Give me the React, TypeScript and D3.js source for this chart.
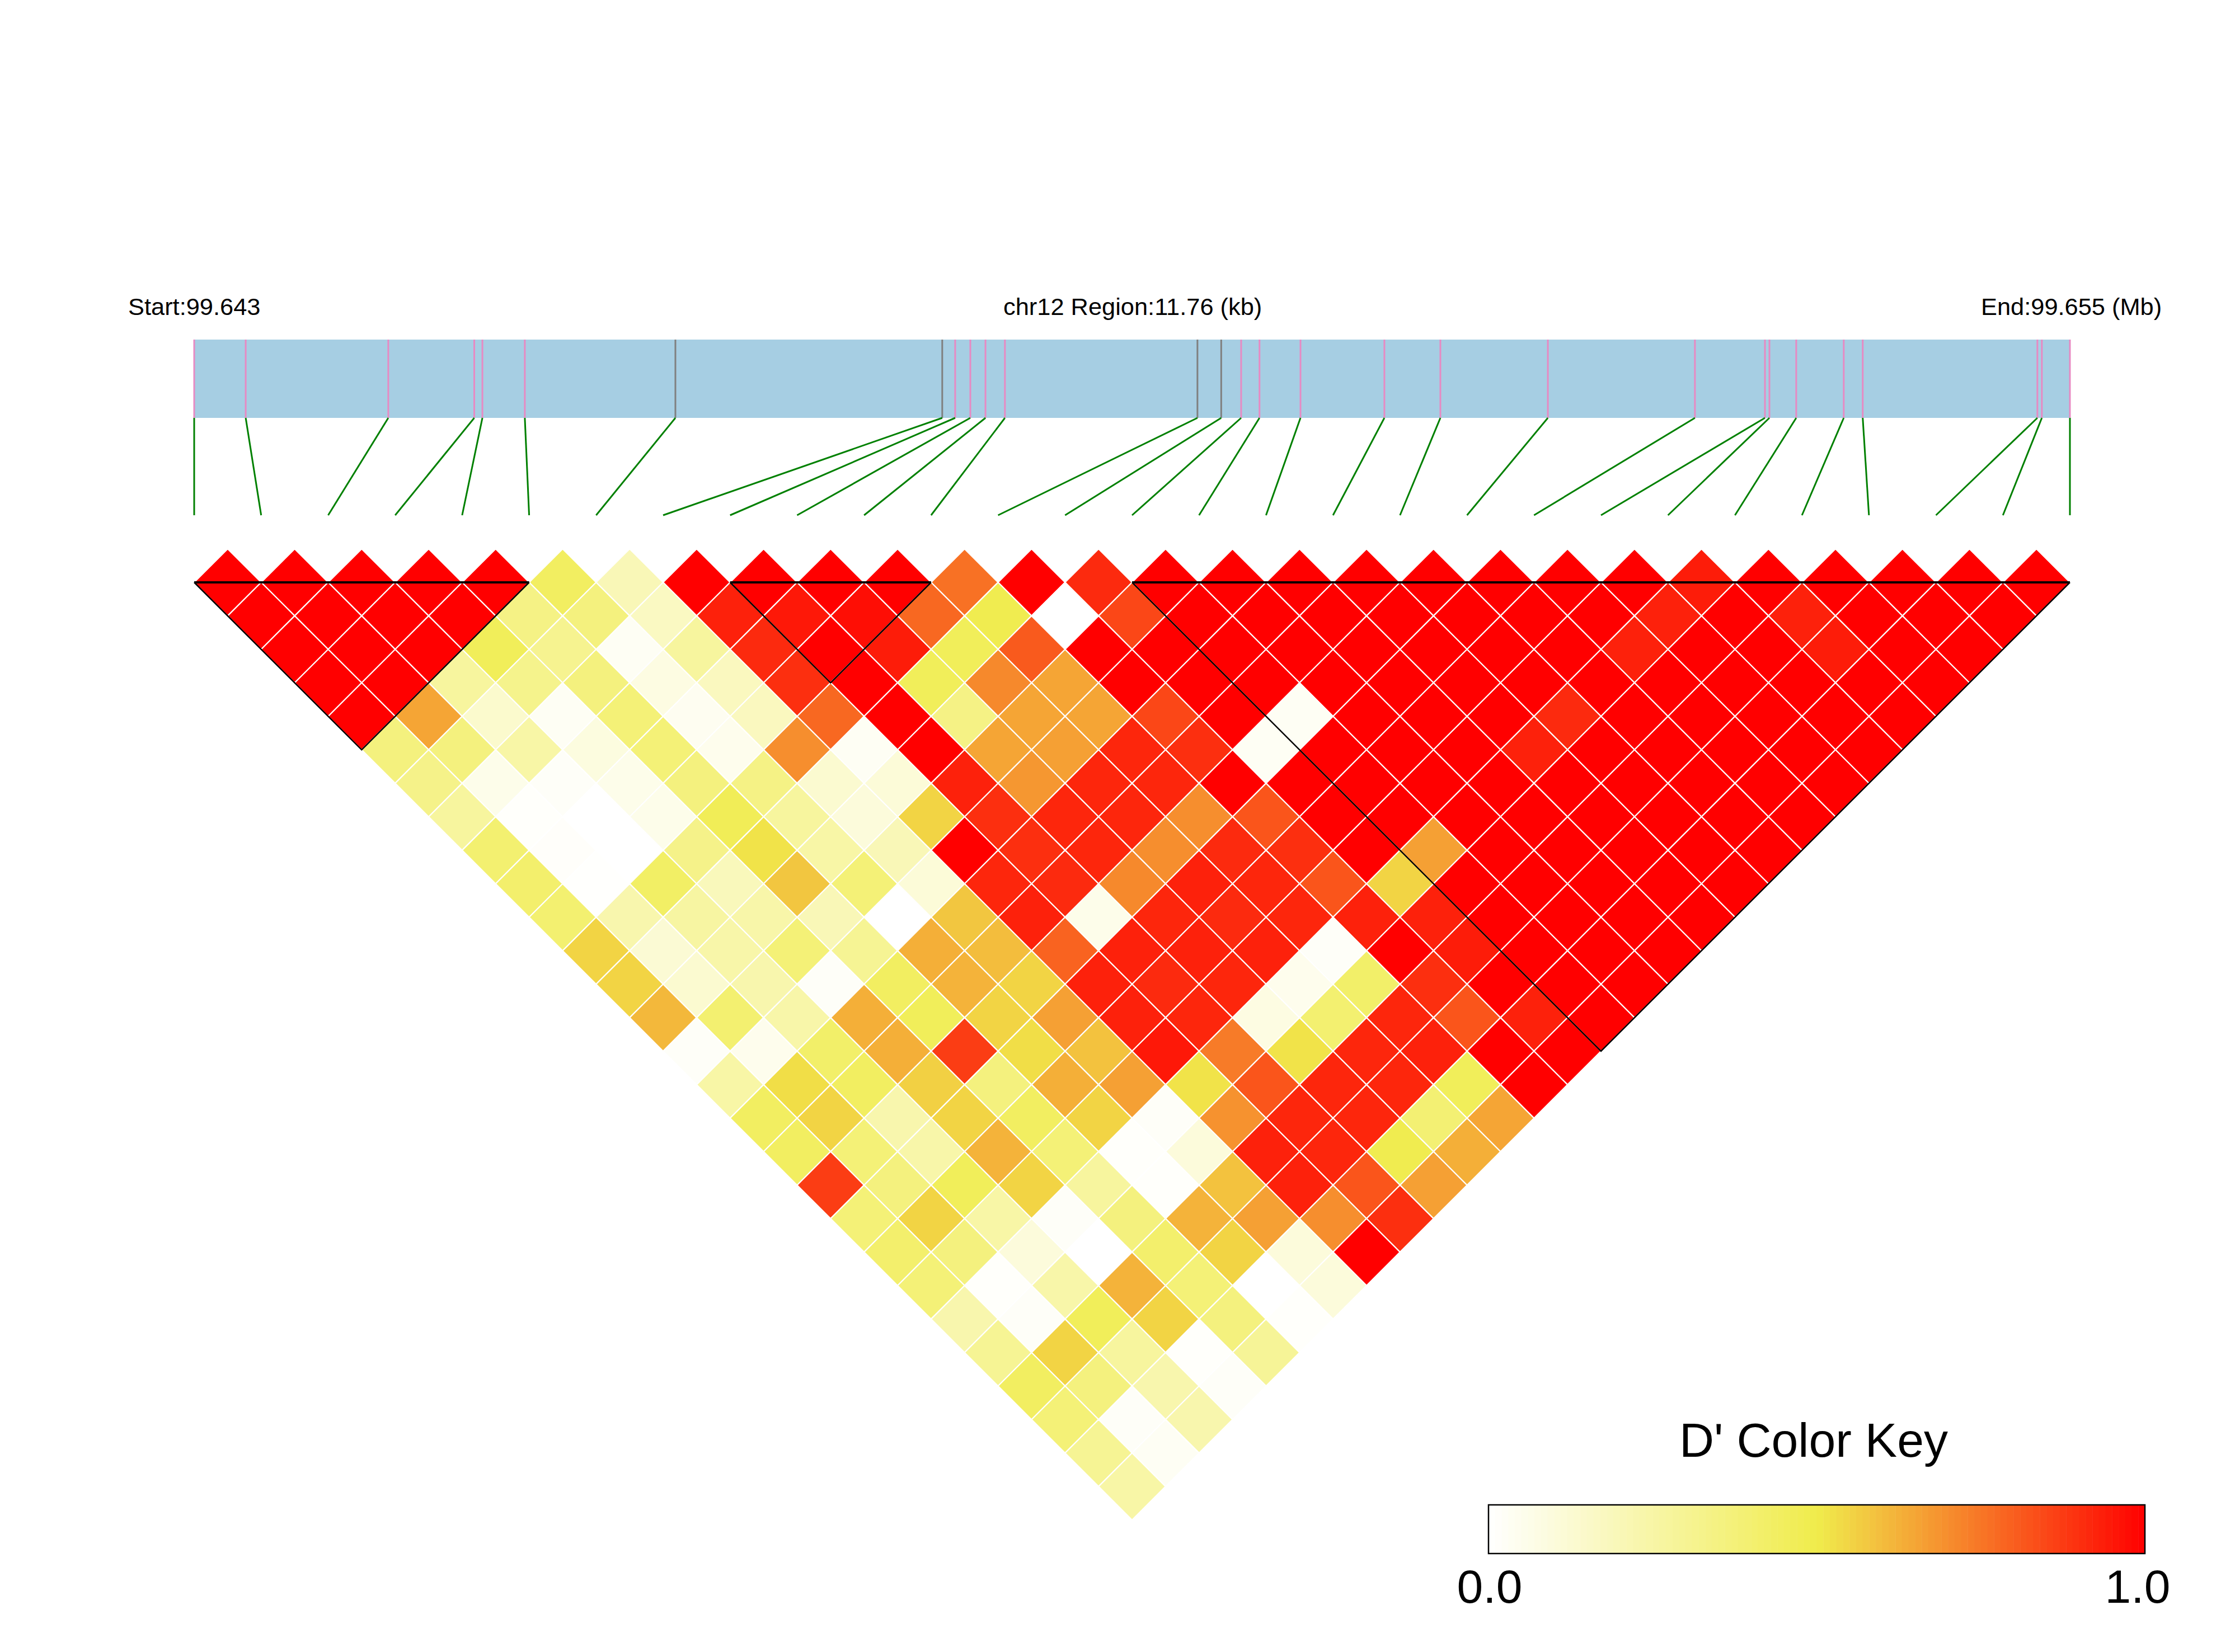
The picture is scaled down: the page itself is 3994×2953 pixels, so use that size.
import React from "react";
import * as d3 from "d3";

const startLabel = "Start:99.643";
const regionLabel = "chr12 Region:11.76 (kb)";
const endLabel = "End:99.655 (Mb)";
const keyTitle = "D' Color Key";
const keyTicks = ["0.0", "1.0"];

// SNP offsets in bp from the region start
const snpOffsets = [0, 323, 1217, 1756, 1807, 2073, 3017, 4690, 4771, 4866, 4961, 5083, 6290, 6439, 6564, 6679, 6936, 7462, 7813, 8487, 9409, 9848, 9876, 10044, 10342, 10461, 11556, 11584, 11760];
const regionLength = 11760;
const greySnps = [6, 7, 12, 13];
// LD blocks as [first SNP, last SNP]
const blocks = [[0, 5], [8, 11], [14, 28]];

// D' by SNP distance: row k holds pairs (i, i+k), left to right
const r = (n: number) => Array(n).fill(1);
const row1 = [1,1,1,1,1,.44,.2,1,1,1,1,.76,1,.91,...r(8),.94,...r(5)];
const row2 = [1,1,1,1,.34,.36,.17,.93,.95,.97,.78,.49,0,.85,...r(7),.93,1,.93,1,1,1];
const row3 = [1,1,1,.46,.31,.03,.27,.91,1,.94,.46,.81,1,1,...r(6),.93,1,1,.94,1,1];
const row4 = [1,1,.27,.32,.36,.08,.18,.9,1,.46,.71,.65,...r(13)];
const row5 = [1,.65,.14,.03,.38,.04,.18,.78,1,.34,.65,.65,.85,1,.03,1,1,1,.91,1,1,1,1,1];
const row6 = [.36,.36,.25,.09,.38,.05,.7,.03,1,.65,.66,.92,.9,.03,1,1,1,.93,1,1,1,1,1];
const row7 = [.33,.06,.02,.06,.36,.34,.13,.11,.93,.68,.92,.92,...r(10)];
const row8 = [.27,.01,0,.06,.47,.27,.1,.55,.9,.92,.92,.7,.82,...r(8)];
const row9 = [.4,.015,0,.33,.52,.25,.2,1,.9,.92,.7,.91,.9,1,.66,...r(5)];
const row10 = [.41,.005,.43,.19,.58,.38,.11,.92,.91,.71,.93,.92,.82,.55,...r(5)];
const row11 = [.4,.23,.26,.24,.2,0,.58,.93,.06,.92,.91,.92,.93,.93,...r(4)];
const row12 = [.55,.12,.24,.38,.3,.63,.6,.79,.93,.93,.93,.02,1,.94,1,1,1];
const row13 = [.55,.13,.23,.02,.44,.62,.55,.93,.91,.92,.05,.42,.9,1,1,1];
const row14 = [.61,.4,.24,.63,.46,.55,.66,.93,.92,.08,.4,.92,.82,.93,1];
const row15 = [.02,.05,.42,.63,.87,.53,.59,.95,.74,.52,.92,.93,1,1];
const row16 = [.25,.53,.44,.56,.36,.63,.66,.52,.82,.92,.92,.46,1];
const row17 = [.44,.55,.23,.55,.44,.55,.02,.69,.92,.92,.39,.65];
const row18 = [.44,.38,.24,.62,.38,.01,.1,.93,.92,.49,.63];
const row19 = [.87,.36,.46,.55,.27,.01,.59,.93,.82,.66];
const row20 = [.38,.55,.25,.02,.36,.62,.66,.7,.9];
const row21 = [.41,.36,.1,0,.41,.55,.1,1];
const row22 = [.38,.01,.24,.62,.38,0,.1];
const row23 = [.23,.02,.46,.55,.36,.01];
const row24 = [.3,.55,.27,.01,.29];
const row25 = [.44,.36,.23,.02];
const row26 = [.38,.02,.23];
const row27 = [.3,.03];
const row28 = [.25];
const rows = [row1,row2,row3,row4,row5,row6,row7,row8,row9,row10,row11,row12,row13,row14,row15,row16,row17,row18,row19,row20,row21,row22,row23,row24,row25,row26,row27,row28];

const W = 3994, H = 2953;
const X0 = 347, X1 = 3699;
const bandTop = 607, bandBottom = 747, labelBottom = 921, matrixTop = 1041;

const xIndex = d3.scaleLinear().domain([0, snpOffsets.length - 1]).range([X0, X1]);
const xGenome = d3.scaleLinear().domain([0, regionLength]).range([X0, X1]);
const step = xIndex(1) - xIndex(0);
const yRow = d3.scaleLinear().domain([1, 2]).range([matrixTop, matrixTop + step / 2]);
const colour = d3.scaleLinear<string>().domain([0, 0.5, 1]).range(["#ffffff", "#f0ec4c", "#ff0000"]);
const path = d3.line();

const legendX = d3.scaleLinear().domain([0, 1]).range([2660, 3833]);
const legendTop = 2690, legendBottom = 2777;
const legendSteps = d3.range(100);

const font = "'Liberation Sans', Arial, sans-serif";

export default function App() {
  return (
    <svg width={W} height={H} viewBox={`0 0 ${W} ${H}`} style={{ position: "absolute", left: 0, top: 0, background: "#fff" }} fontFamily={font}>
      <text x={229} y={563} fontSize={43.4}>{startLabel}</text>
      <text x={1793} y={563} fontSize={43.4}>{regionLabel}</text>
      <text x={3540} y={563} fontSize={43.4}>{endLabel}</text>

      <rect x={X0} y={bandTop} width={X1 - X0} height={bandBottom - bandTop} fill="#a6cee3" />
      {snpOffsets.map((p, i) => (
        <g key={i}>
          <line x1={xGenome(p)} x2={xGenome(p)} y1={bandTop} y2={bandBottom} stroke={greySnps.includes(i) ? "#808080" : "#e78ac3"} strokeWidth={3} />
          <line x1={xGenome(p)} y1={bandBottom} x2={xIndex(i)} y2={labelBottom} stroke="#008000" strokeWidth={3} />
        </g>
      ))}

      {rows.map((row, k) =>
        row.map((v, i) => {
          const d = k + 1;
          const cx = xIndex(i + d / 2);
          const cy = yRow(d);
          const h = step / 2;
          return (
            <path key={`${d}-${i}`} d={path([[cx - h, cy], [cx, cy - h], [cx + h, cy], [cx, cy + h]]) + "Z"} fill={colour(v)} stroke="#fff" strokeWidth={2.2} />
          );
        })
      )}

      {blocks.map(([a, b], i) => (
        <g key={i} fill="none" stroke="#000">
          <line x1={xIndex(a)} x2={xIndex(b)} y1={matrixTop} y2={matrixTop} strokeWidth={4} />
          <path d={path([[xIndex(a), matrixTop], [xIndex((a + b) / 2), yRow(b - a + 1)], [xIndex(b), matrixTop]])!} strokeWidth={2.5} />
        </g>
      ))}

      <text x={3241} y={2604} fontSize={86} textAnchor="middle">{keyTitle}</text>
      {legendSteps.map((s) => (
        <rect key={s} x={legendX(s / 100)} width={legendX((s + 1) / 100) - legendX(s / 100) + 0.5} y={legendTop} height={legendBottom - legendTop} fill={colour((s + 0.5) / 100)} />
      ))}
      <rect x={legendX(0)} y={legendTop} width={legendX(1) - legendX(0)} height={legendBottom - legendTop} fill="none" stroke="#000" strokeWidth={2.5} />
      <text x={legendX(0) + 2} y={2865} fontSize={84} textAnchor="middle">{keyTicks[0]}</text>
      <text x={legendX(1) - 13} y={2865} fontSize={84} textAnchor="middle">{keyTicks[1]}</text>
    </svg>
  );
}
